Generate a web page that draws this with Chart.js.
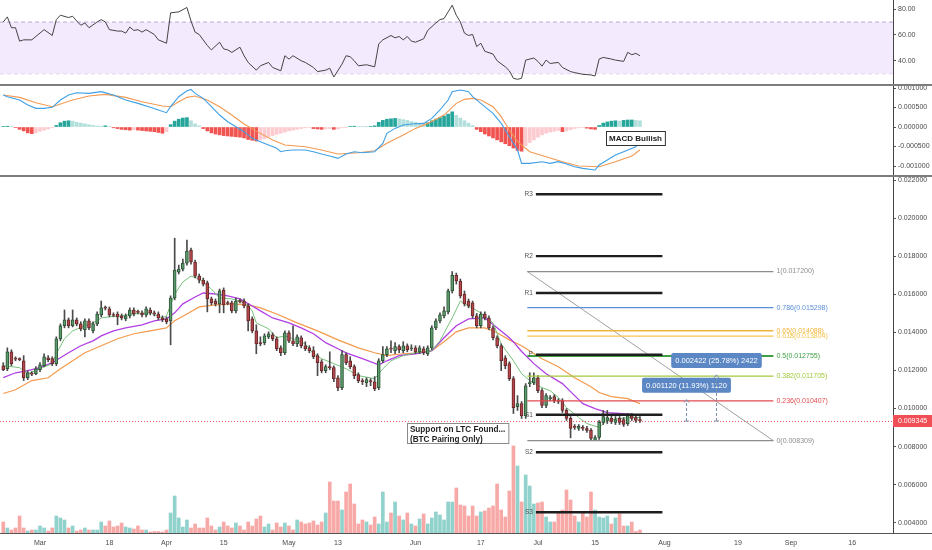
<!DOCTYPE html>
<html>
<head>
<meta charset="utf-8">
<script src="https://cdn.jsdelivr.net/npm/chart.js@4.4.1/dist/chart.umd.min.js"></script>
<style>
html,body{margin:0;padding:0;background:#fff;}
canvas{display:block;}
</style>
</head>
<body>
<canvas id="c" width="932" height="550"></canvas>
<script>
// ---------- DATA ----------
const startDate = '2019-02-20';           // day index 0 (daily candles, LTC/BTC)
const tickDays   = [9, 26, 40, 54, 70, 82, 101, 117, 131, 145, 162, 180, 193, 208];
const tickLabels = ['Mar','18','Apr','15','May','13','Jun','17','Jul','15','Aug','19','Sep','16'];

const PRICE_UNIT = 1e-5; // prices below are in 1e-5 BTC
const open = [
1225,1209,1298,1262,1259,1251,1162,1183,1183,1204,
1225,1267,1262,1236,1367,1435,1466,1435,1466,1445,
1414,1461,1408,1445,1492,1529,1524,1492,1497,1487,
1471,1487,1518,1508,1503,1492,1518,1503,1497,1476,
1471,1461,1581,1717,1733,1764,1833,1770,1696,1675,
1660,1576,1565,1550,1623,1555,1555,1513,1565,1565,
1539,1471,1408,1346,1346,1377,1387,1367,1319,1293,
1398,1356,1340,1372,1330,1319,1304,1278,1246,1199,
1220,1215,1162,1110,1283,1251,1220,1178,1147,1136,
1147,1141,1110,1251,1283,1314,1304,1325,1304,1330,
1314,1319,1298,1314,1288,1319,1424,1461,1487,1508,
1618,1700,1670,1602,1565,1555,1487,1435,1497,1476,
1424,1372,1330,1267,1236,1157,1010,1026,963,1131,
1136,1162,1094,1016,1052,1063,1042,1042,990,948,
906,895,901,895,885,832,848,927,937,948,
927,948,942,921,963,953,942];
const high = [
1241,1319,1309,1272,1267,1278,1199,1194,1220,1241,
1288,1278,1272,1377,1445,1518,1476,1518,1476,1456,
1471,1471,1456,1508,1565,1539,1534,1503,1508,1497,
1497,1529,1529,1518,1513,1534,1529,1513,1508,1487,
1482,1592,1895,1754,1785,1885,1843,1780,1707,1686,
1670,1586,1576,1628,1634,1565,1565,1581,1576,1576,
1550,1482,1440,1377,1393,1403,1398,1377,1330,1408,
1408,1435,1387,1382,1351,1330,1325,1288,1257,1230,
1298,1225,1173,1304,1293,1272,1230,1188,1157,1162,
1157,1168,1262,1325,1325,1356,1346,1335,1351,1340,
1335,1330,1330,1325,1330,1435,1471,1503,1534,1628,
1720,1712,1681,1618,1576,1565,1500,1508,1508,1487,
1435,1382,1340,1278,1246,1168,1068,1037,1131,1188,
1188,1173,1105,1079,1068,1073,1052,1052,1000,958,
916,916,911,906,895,858,937,990,990,969,
958,958,953,974,974,963,958];
const low = [
1199,1199,1225,1251,1251,1147,1152,1173,1178,1194,
1220,1246,1225,1225,1356,1424,1424,1429,1435,1408,
1377,1414,1398,1435,1482,1518,1482,1482,1440,1466,
1461,1476,1487,1497,1482,1482,1492,1487,1466,1456,
1445,1335,1571,1707,1723,1754,1759,1686,1660,1644,
1508,1545,1539,1503,1503,1545,1503,1503,1555,1529,
1408,1398,1288,1330,1335,1367,1356,1304,1278,1283,
1346,1330,1325,1319,1304,1293,1262,1173,1188,1188,
1204,1141,1094,1099,1230,1209,1157,1136,1126,1115,
1120,1094,1099,1241,1272,1293,1288,1293,1293,1298,
1304,1288,1288,1283,1278,1309,1414,1450,1476,1497,
1607,1654,1581,1539,1529,1476,1424,1424,1466,1414,
1361,1319,1199,1209,1147,974,990,948,948,1115,
1126,1084,1005,1005,1042,1031,1026,979,937,846,
890,885,885,874,835,830.9,838,916,921,921,
916,916,906,911,937,927,927];
const close = [
1204,1298,1236,1259,1257,1162,1188,1181,1209,1230,
1272,1257,1236,1367,1435,1466,1435,1466,1445,1419,
1461,1424,1445,1497,1529,1527,1492,1489,1482,1476,
1487,1518,1497,1505,1492,1524,1503,1497,1476,1466,
1456,1581,1728,1733,1764,1827,1770,1696,1675,1654,
1576,1555,1550,1618,1545,1552,1513,1565,1562,1539,
1461,1408,1340,1340,1382,1393,1367,1314,1293,1398,
1356,1340,1377,1330,1314,1304,1272,1241,1199,1220,
1215,1157,1110,1283,1241,1220,1173,1147,1141,1152,
1141,1105,1251,1283,1314,1312,1325,1309,1330,1309,
1319,1298,1319,1293,1319,1424,1461,1492,1513,1618,
1700,1670,1592,1550,1539,1487,1435,1497,1476,1424,
1372,1330,1251,1225,1157,1005,1026,963,1120,1136,
1162,1094,1016,1068,1058,1042,1037,990,948,895,
901,906,895,885,843,848,927,958,953,932,
942,927,916,963,948,937,934.5];
const volume = [
11,5,3,5,17,5,2,3,3,7,
5,2,5,17,15,13,5,7,2,3,
5,3,3,3,11,7,12,6,7,10,
6,5,4,7,3,3,1,1.5,1.5,1,
3,20,37,15,6,13,5,9,5,5,
15,7,3,6,11,7,5,10,7,3,
11,7,14,17,6,9,3,10,6,10,
7,3,13,11,9,10,12,8,11,20,
51,32,32,23,41,49,29,9,13,11,
8,16,9,41,11,20,31,17,13,20,
9,7,14,19,9,15,21,18,13,31,
31,45,28,27,17,27,17,21,22,25,
27,49,23,16,42,87,67,31,58,47,
29,30,31,16,11,11,20,23,43,33,
17,11,21,16,41,23,16,15,17,9,
15,19,7,7,11,1.5,3];
const volumeAxisMax = 533;

// moving averages
const maFastDays = [0,4,6,9,12,13,15,17,20,22,24,26,29,32,36,39,40,42,44,46,48,51,53,56,58,60,61,62,65,67,69,71,74,76,78,81,84,87,91,93,95,98,101,105,107,110,112,114,117,120,122,125,127,129,132,134,136,138,141,143,146,148,151,154,156];
const maFast = [1225,1215,1183,1209,1236,1288,1367,1408,1435,1450,1476,1482,1487,1497,1503,1476,1487,1602,1665,1696,1681,1628,1581,1576,1565,1539,1513,1450,1419,1372,1382,1367,1340,1288,1262,1236,1209,1173,1157,1209,1251,1278,1293,1304,1356,1476,1565,1539,1503,1450,1340,1251,1183,1147,1110,1094,1058,1005,953,921,901,937,948,953,953];
const maMidDays = [0,3,6,9,12,16,19,22,24,27,30,34,37,40,42,44,47,49,52,55,58,61,63,66,70,73,76,79,82,84,88,92,94,97,101,105,108,111,114,118,121,124,125,127,130,133,137,140,142,145,148,151,154,156];
const maMid = [1162,1188,1199,1215,1241,1293,1330,1356,1382,1408,1424,1440,1461,1471,1503,1550,1586,1607,1602,1592,1576,1539,1513,1476,1450,1424,1393,1346,1314,1293,1262,1230,1251,1278,1288,1304,1372,1435,1471,1476,1424,1372,1350,1300,1236,1183,1131,1068,1026,1000,979,974,969,963];
const maSlowDays = [0,3,7,11,14,17,20,24,28,32,36,40,42,45,48,52,56,60,63,67,72,77,82,87,91,94,98,102,105,108,111,114,118,121,124,127,132,136,140,144,146,149,153,156];
const maSlow = [1079,1099,1147,1162,1209,1251,1293,1330,1367,1393,1408,1424,1461,1497,1534,1545,1550,1545,1529,1497,1450,1408,1361,1319,1293,1278,1288,1293,1304,1351,1403,1424,1424,1398,1361,1330,1262,1220,1162,1115,1084,1063,1052,1026];

// RSI
const rsiDays = [0,1,2,3,4,5,7,10,12,13,14,16,17,18,19,20,21,23,24,25,26,28,29,30,31,32,33,34,35,37,38,40,41,43,45,46,47,48,50,51,53,54,55,56,58,59,60,62,63,65,66,68,69,70,71,73,74,76,77,79,80,81,83,84,85,86,87,89,91,92,93,95,96,97,98,99,100,101,103,104,106,107,108,109,110,111,112,113,114,115,116,117,118,120,121,123,124,125,126,127,128,130,131,132,133,134,136,137,139,140,142,144,145,146,147,149,150,152,153,154,155,156];
const rsiVals = [70,74,65.6,65.6,55.2,56.2,56.2,64.1,59.6,71.9,75.3,73.5,74.5,70.8,67.5,69.3,65.6,70.1,71.9,70.1,64.1,63,63,61.4,66.1,63.5,64.1,62.2,64.1,60.4,56.2,53.6,77.1,77.9,81.3,70.8,62.2,60.4,51.8,48.4,54.4,49.2,48.4,46.5,50.5,43.9,38.7,32.7,36.1,38.7,34.8,32.2,43.9,41.3,43.9,40,38.7,34.8,31.6,32.7,34.2,27.4,37.4,43.9,43.1,40,36.1,36.9,35.3,53.1,56.2,59.6,57.8,58.8,56.2,58.8,55.2,54.4,57,63.5,69.3,71.9,72.7,77.9,83.1,75.3,70.1,61.4,59.6,60.4,51,53.6,47.3,45.2,40,35.3,32.2,26.4,25.6,26.4,40.5,42.1,39.5,35.8,40.5,37.9,38.7,34.8,31.6,30.8,29.5,29,28.2,41.3,42.6,41.3,40.5,39.5,46.5,44.7,45.7,43.9];
const rsiBands = [70, 30];
const rsiTicks = [40, 60, 80];

// MACD (values in 1e-6)
const MACD_UNIT = 1e-6;
const macdDays = [0,1,4,6,8,10,12,14,16,18,21,24,27,30,33,36,38,40,41,43,45,46,47,49,51,53,55,57,59,61,63,65,67,68,69,71,74,76,78,80,82,84,86,88,91,93,94,96,98,100,103,105,107,109,110,112,114,115,117,120,122,124,126,127,129,132,134,136,138,140,142,145,146,148,150,152,155,156];
const macdVals = [820,777,692,564,478,478,504,692,820,880,863,906,820,692,606,504,436,367,521,777,931,965,863,735,521,307,136,8,-120,-291,-376,-462,-547,-633,-607,-590,-590,-633,-693,-744,-804,-693,-633,-659,-633,-419,-163,-35,51,76,93,222,436,692,906,948,906,777,606,350,93,-248,-590,-932,-932,-889,-932,-889,-949,-1018,-1060,-1103,-975,-847,-718,-633,-505,-376];
const signalDays = [0,4,8,12,17,21,25,30,34,39,41,43,45,47,50,53,56,59,63,66,69,74,78,82,87,91,94,98,101,104,108,111,113,115,117,120,122,124,126,129,133,137,141,146,150,154,156];
const signalVals = [820,760,624,521,692,795,837,760,649,538,521,649,760,795,692,521,307,77,-163,-334,-462,-505,-590,-693,-659,-607,-419,-206,-35,93,307,606,709,735,692,521,265,-77,-376,-633,-761,-889,-1000,-1018,-889,-744,-590];
const macdHist = [
15,20,10,-15,-60,-100,-150,-170,-150,-110,
-80,-50,-20,40,110,150,160,150,120,100,
80,60,40,25,20,30,15,-20,-40,-60,
-70,-80,-70,-80,-90,-100,-110,-120,-140,-160,
-120,60,150,200,230,240,160,80,30,-40,
-100,-150,-180,-200,-220,-230,-240,-250,-260,-280,
-320,-340,-360,-330,-300,-250,-220,-190,-160,-130,
-100,-80,-60,-40,-20,-15,-40,-50,-60,-50,
-40,-60,-50,-20,-10,10,20,15,10,5,
10,30,120,170,200,210,220,210,190,170,
140,120,100,90,110,160,200,240,280,330,
390,300,230,160,100,40,-60,-120,-180,-230,
-280,-330,-380,-430,-480,-540,-600,-620,-480,-400,
-330,-260,-200,-160,-130,-110,-90,-120,-100,-70,
-40,-20,-10,-30,-50,-60,40,100,130,150,
160,150,170,180,180,170,160];
const macdTicks = [-0.001, -0.0005, 0, 0.0005, 0.001];

// price axis ticks
const priceTicks = [0.004,0.006,0.008,0.010,0.012,0.014,0.016,0.018,0.020,0.022];

// monthly pivots (July)
const pivotNames  = ['R3','R2','R1','P','S1','S2','S3'];
const pivotLevels = [0.02126,0.01801,0.01607,0.01283,0.00967,0.00770,0.00455];
const pivotFromDay = 130.5, pivotToDay = 161.5;

// fibonacci retracement
const fibRatios = [1, 0.786, 0.65, 0.618, 0.5, 0.382, 0.236, 0];
const fibLevels = [0.017200,0.015298,0.014088,0.013804,0.012755,0.011705,0.010407,0.008309];
const fibColors = ['#8d8d8d','#5b8fd6','#f0b43a','#f5c650','#3f9f45','#a3c93c','#e34a4f','#8d8d8d'];
const fibFromDay = 128.4, fibToDay = 188.7;

// measurements
const measureDays   = [167.3, 174.7];
const measureDiffs  = [0.001120, 0.002422];
const measureLabels = ['0.001120 (11.93%) 1120', '0.002422 (25.78%) 2422'];

// notes
const noteDay = 98.9, notePrice = 0.009215;
const noteLines = ['Support on LTC Found...', '(BTC Pairing Only)'];
const macdNoteDay = 147.7, macdNoteValue = -0.0001;
const macdNoteText = 'MACD Bullish';

// axis ranges
const xMin = -0.8, xMax = 218;
const rsiMin = 21.2, rsiMax = 87.1;
const macdMin = -0.001256, macdMax = 0.001077;
const priceMin = 0.00346, priceMax = 0.02222;

// ---------- BUILD ----------
const FONT = "'Liberation Sans', Arial, sans-serif";
const days = open.map((_, i) => i);
const up = days.map(i => close[i] >= open[i]);
const lastClose = close[close.length - 1] * PRICE_UNIT;
const P = v => v * PRICE_UNIT;
const line = (xs, ys, unit) => xs.map((d, i) => ({x: d, y: ys[i] * unit}));

const histColors = macdHist.map((h, i) => {
  const prev = i ? macdHist[i - 1] : 0;
  if (h >= 0) return h >= prev ? '#26a69a' : '#b2dfdb';
  return h < prev ? '#f05350' : '#fccbd0';
});

const datasets = [];
// RSI band
datasets.push({type:'line', yAxisID:'yRsi', data:[{x:xMin,y:rsiBands[0]},{x:xMax,y:rsiBands[0]}],
  borderColor:'#b9a9d2', borderWidth:1, borderDash:[4,3], pointRadius:0, fill:'+1', backgroundColor:'#f3eafd', order:30});
datasets.push({type:'line', yAxisID:'yRsi', data:[{x:xMin,y:rsiBands[1]},{x:xMax,y:rsiBands[1]}],
  borderColor:'#b9a9d2', borderWidth:1, borderDash:[4,3], pointRadius:0, fill:false, order:30});
// volume
datasets.push({type:'bar', yAxisID:'yVol', grouped:false, barThickness:3,
  data: days.map(i => ({x:i, y:volume[i]})),
  backgroundColor: up.map(u => u ? 'rgba(38,166,154,0.5)' : 'rgba(239,83,80,0.5)'), order:25});
// MACD histogram
datasets.push({type:'bar', yAxisID:'yMacd', grouped:false, barThickness:3,
  data: days.map(i => ({x:i, y:macdHist[i] * MACD_UNIT})), backgroundColor: histColors, order:24});
// moving averages
datasets.push({type:'line', yAxisID:'yPrice', data: line(maSlowDays, maSlow, PRICE_UNIT), borderColor:'#f39a4c', borderWidth:1.2, pointRadius:0, order:15});
datasets.push({type:'line', yAxisID:'yPrice', data: line(maMidDays, maMid, PRICE_UNIT), borderColor:'#b13fe4', borderWidth:1.3, pointRadius:0, order:14});
datasets.push({type:'line', yAxisID:'yPrice', data: line(maFastDays, maFast, PRICE_UNIT), borderColor:'#76c27a', borderWidth:1, pointRadius:0, order:13});
// candles
datasets.push({type:'bar', yAxisID:'yPrice', grouped:false, barThickness:1,
  data: days.map(i => ({x:i, y:[P(low[i]), P(high[i])]})), backgroundColor:'#4a4a4a', order:12});
datasets.push({type:'bar', yAxisID:'yPrice', grouped:false, barThickness:3, minBarLength:1, borderSkipped:false, borderWidth:1,
  data: days.map(i => ({x:i, y:[P(open[i]), P(close[i])]})),
  backgroundColor: up.map(u => u ? '#5c9b6b' : '#b5474b'),
  borderColor: up.map(u => u ? '#2c5536' : '#66282a'), order:11});
// fib lines
fibLevels.forEach((lv, k) => {
  datasets.push({type:'line', yAxisID:'yPrice', data:[{x:fibFromDay,y:lv},{x:fibToDay,y:lv}],
    borderColor: fibColors[k], borderWidth: (k === 4 ? 2 : 1.3), pointRadius:0, order:8});
});
// fib diagonal
datasets.push({type:'line', yAxisID:'yPrice', data:[{x:fibFromDay,y:fibLevels[0]},{x:fibToDay,y:fibLevels[fibLevels.length-1]}],
  borderColor:'#a0a0a0', borderWidth:1, pointRadius:0, order:8});
// pivots
pivotLevels.forEach(lv => {
  datasets.push({type:'line', yAxisID:'yPrice', data:[{x:pivotFromDay,y:lv},{x:pivotToDay,y:lv}],
    borderColor:'#1e1e1e', borderWidth:2.4, pointRadius:0, order:7});
});
// RSI line
datasets.push({type:'line', yAxisID:'yRsi', data: line(rsiDays, rsiVals, 1), borderColor:'#444', borderWidth:1, pointRadius:0, order:5});
// MACD lines
datasets.push({type:'line', yAxisID:'yMacd', data: line(signalDays, signalVals, MACD_UNIT), borderColor:'#f39a52', borderWidth:1.1, pointRadius:0, order:5});
datasets.push({type:'line', yAxisID:'yMacd', data: line(macdDays, macdVals, MACD_UNIT), borderColor:'#3fa0e6', borderWidth:1.1, pointRadius:0, order:4});

const tickFont = {size:7, family:FONT};
function yAxis(weight, min, max, ticksArr, fmt) {
  return {
    type:'linear', position:'right', stack:'panes', stackWeight:weight, min, max, offset:false,
    grid:{display:true, drawOnChartArea:false, drawTicks:true, tickLength:3, color:'#555'},
    border:{display:true, color:'#444', width:1},
    ticks:{font:tickFont, color:'#4a4a4a', padding:2, autoSkip:false, callback: v => fmt(v)},
    afterBuildTicks: s => { s.ticks = ticksArr.map(v => ({value:v})); },
    afterFit: s => { s.width = 39; s.paddingTop = 0; s.paddingBottom = 0; }
  };
}

const annot = {
  id:'annot',
  beforeDatasetsDraw(chart) {
    const {ctx, chartArea:a, scales:{yPrice}} = chart;
    const y = Math.round(yPrice.getPixelForValue(lastClose)) + 0.5;
    ctx.save();
    ctx.strokeStyle = '#ef5a62'; ctx.lineWidth = 1; ctx.setLineDash([1,2]);
    ctx.beginPath(); ctx.moveTo(a.left, y); ctx.lineTo(a.right, y); ctx.stroke();
    ctx.restore();
  },
  afterDatasetsDraw(chart) {
    const {ctx, scales:{x, yPrice, yMacd}} = chart;
    ctx.save();
    // pivot labels
    ctx.font = '6.5px ' + FONT; ctx.fillStyle = '#555'; ctx.textAlign = 'right'; ctx.textBaseline = 'middle';
    pivotNames.forEach((n, k) => ctx.fillText(n, x.getPixelForValue(pivotFromDay) - 3, yPrice.getPixelForValue(pivotLevels[k])));
    // fib labels
    ctx.font = '7px ' + FONT; ctx.textAlign = 'left';
    fibLevels.forEach((lv, k) => {
      ctx.fillStyle = fibColors[k];
      ctx.fillText(String(fibRatios[k]) + '(' + lv.toFixed(6) + ')', x.getPixelForValue(fibToDay) + 3, yPrice.getPixelForValue(lv));
    });
    // measurements
    measureDays.forEach((d, k) => {
      const xp = Math.round(x.getPixelForValue(d)) + 0.5;
      const yb = yPrice.getPixelForValue(lastClose);
      const yt = yPrice.getPixelForValue(lastClose + measureDiffs[k]);
      ctx.strokeStyle = '#7f93ad'; ctx.lineWidth = 1; ctx.setLineDash([3,2]);
      ctx.beginPath(); ctx.moveTo(xp, yb); ctx.lineTo(xp, yt); ctx.stroke();
      ctx.setLineDash([]);
      ctx.beginPath(); ctx.moveTo(xp - 2.5, yt + 3); ctx.lineTo(xp, yt); ctx.lineTo(xp + 2.5, yt + 3); ctx.stroke();
      ctx.beginPath(); ctx.moveTo(xp - 2.5, yb); ctx.lineTo(xp + 2.5, yb); ctx.stroke();
      ctx.font = '7.5px ' + FONT;
      const w = ctx.measureText(measureLabels[k]).width + 8, h = 15;
      const bx = xp - w / 2, by = yt - 7 - h;
      ctx.fillStyle = '#5b87c4';
      ctx.beginPath(); ctx.roundRect ? ctx.roundRect(bx, by, w, h, 2) : ctx.rect(bx, by, w, h); ctx.fill();
      ctx.fillStyle = '#fff'; ctx.textAlign = 'center'; ctx.textBaseline = 'middle';
      ctx.fillText(measureLabels[k], xp, by + h / 2 + 0.5);
    });
    // note box in price pane
    ctx.font = 'bold 8.2px ' + FONT; ctx.textAlign = 'left'; ctx.textBaseline = 'alphabetic';
    const nx = x.getPixelForValue(noteDay), ny = yPrice.getPixelForValue(notePrice);
    const nw = Math.max(...noteLines.map(t => ctx.measureText(t).width)) + 6;
    ctx.fillStyle = '#fff'; ctx.fillRect(nx, ny, nw, 20);
    ctx.strokeStyle = '#8a8a8a'; ctx.lineWidth = 1; ctx.strokeRect(Math.round(nx) + 0.5, Math.round(ny) + 0.5, nw, 20);
    ctx.fillStyle = '#1e1e1e';
    noteLines.forEach((t, k) => ctx.fillText(t, nx + 3, ny + 9 + k * 9.2));
    // MACD note
    ctx.font = 'bold 8px ' + FONT;
    const mx = x.getPixelForValue(macdNoteDay), my = yMacd.getPixelForValue(macdNoteValue);
    const mw = ctx.measureText(macdNoteText).width + 6;
    ctx.fillStyle = '#fff'; ctx.fillRect(mx, my, mw, 14);
    ctx.strokeStyle = '#333'; ctx.strokeRect(Math.round(mx) + 0.5, Math.round(my) + 0.5, mw, 14);
    ctx.fillStyle = '#1e1e1e'; ctx.textBaseline = 'middle';
    ctx.fillText(macdNoteText, mx + 3, my + 7.5);
    ctx.restore();
  },
  afterDraw(chart) {
    const {ctx, chartArea:a, scales:{x, yRsi, yMacd, yPrice}} = chart;
    ctx.save();
    ctx.strokeStyle = '#7d7d7d'; ctx.lineWidth = 2;
    [yRsi.bottom, yMacd.bottom].forEach(yy => {
      ctx.beginPath(); ctx.moveTo(0, yy); ctx.lineTo(chart.width, yy); ctx.stroke();
    });
    ctx.strokeStyle = '#555'; ctx.lineWidth = 1;
    ctx.beginPath(); ctx.moveTo(0, Math.round(x.top) + 0.5); ctx.lineTo(chart.width, Math.round(x.top) + 0.5); ctx.stroke();
    // last price tag
    const y = yPrice.getPixelForValue(lastClose);
    ctx.fillStyle = '#ef4f55';
    ctx.fillRect(a.right, y - 6, chart.width - a.right, 12);
    ctx.fillStyle = '#fff'; ctx.font = '7px ' + FONT; ctx.textAlign = 'left'; ctx.textBaseline = 'middle';
    ctx.fillText(lastClose.toFixed(6), a.right + 5, y + 0.5);
    ctx.restore();
  }
};

new Chart(document.getElementById('c'), {
  type:'bar',
  data:{datasets},
  plugins:[annot],
  options:{
    responsive:false, animation:false, devicePixelRatio:1, events:[],
    layout:{padding:0},
    plugins:{legend:{display:false}, tooltip:{enabled:false}},
    scales:{
      x:{type:'linear', min:xMin, max:xMax, offset:false,
         grid:{display:false, drawTicks:false},
         border:{display:true, color:'#555'},
         ticks:{font:tickFont, color:'#4a4a4a', padding:6, autoSkip:false, maxRotation:0,
                callback: v => { const k = tickDays.indexOf(v); return k >= 0 ? tickLabels[k] : ''; }},
         afterBuildTicks: s => { s.ticks = tickDays.map(v => ({value:v})); },
         afterFit: s => { s.height = 17; s.paddingLeft = 0; s.paddingRight = 0; }},
      yRsi: yAxis(85, rsiMin, rsiMax, rsiTicks, v => v.toFixed(2)),
      yMacd: yAxis(91, macdMin, macdMax, macdTicks, v => v.toFixed(6)),
      yPrice: yAxis(357, priceMin, priceMax, priceTicks, v => v.toFixed(6)),
      yVol:{type:'linear', position:'right', display:false, min:0, max:volumeAxisMax}
    }
  }
});
</script>
</body>
</html>
